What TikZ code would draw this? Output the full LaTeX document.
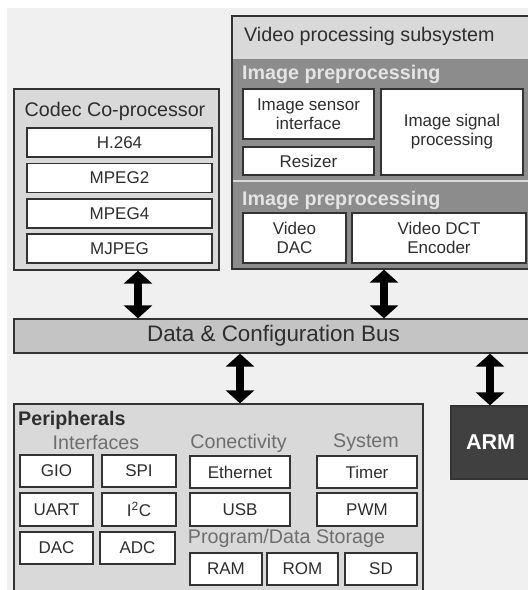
\documentclass[tikz,border=0pt]{standalone}
\usepackage{fontspec}
\setmainfont{Liberation Sans}
\usetikzlibrary{arrows.meta}
\definecolor{bgc}{HTML}{F0F0F0}
\definecolor{boxc}{HTML}{D9D9D9}
\definecolor{bandc}{HTML}{8C8C8C}
\definecolor{bandtxt}{HTML}{E4E4E4}
\definecolor{busc}{HTML}{C4C4C4}
\definecolor{edgec}{HTML}{333333}
\definecolor{txtc}{HTML}{2E2E2E}
\definecolor{subc}{HTML}{6E6E6E}
\definecolor{armc}{HTML}{404040}
\tikzset{
  outer/.style={draw=edgec, line width=1.3pt, fill=boxc, rectangle, inner sep=0pt},
  item/.style={draw=edgec, line width=1.4pt, fill=white, rectangle, inner sep=0pt,
     text=txtc, font=\fontsize{17}{20}\selectfont, align=center},
  title/.style={text=txtc, font=\fontsize{19.7}{22}\selectfont, inner sep=0pt},
  bandtitle/.style={text=bandtxt, font=\fontsize{19.7}{22}\selectfont\bfseries, inner sep=0pt, anchor=west},
  sublabel/.style={text=subc, font=\fontsize{19.7}{22}\selectfont, inner sep=0pt},
  bigarrow/.style={line width=8pt, black, {Triangle[width=28pt,length=13pt]}-{Triangle[width=28pt,length=13pt]}},
}
\begin{document}
\begin{tikzpicture}[x=1pt,y=-1pt]
\useasboundingbox (0,0) rectangle (528,590);
\clip (0,0) rectangle (528,590);
\fill[bgc] (7,8) rectangle (540,600);

% Codec co-processor
\node[outer, minimum width=205pt, minimum height=181pt] (codec) at (116.5,179.5) {};
\node[title] (codectitle) at (115,111) {Codec Co-processor};
\node[item, minimum width=185pt, minimum height=29pt] (h264) at (119.5,142.5) {H.264};
\node[item, minimum width=185pt, minimum height=29pt] (mpeg2) at (119.5,178) {MPEG2};
\node[item, minimum width=185pt, minimum height=29pt] (mpeg4) at (119.5,213.5) {MPEG4};
\node[item, minimum width=185pt, minimum height=29pt] (mjpeg) at (119.5,248.5) {MJPEG};

% Video processing subsystem
\node[outer, minimum width=308pt, minimum height=253pt] (video) at (386,142.5) {};
\node[title, anchor=west] (videotitle) at (244,36) {Video processing subsystem};
\node[fill=bandc, inner sep=0pt, minimum width=307pt, minimum height=122pt] (band1) at (386.5,120) {};
\node[fill=bandc, inner sep=0pt, minimum width=307pt, minimum height=86pt] (band2) at (386.5,225) {};
\draw[boxc, line width=2.5pt] (band1.south west) -- (band1.south east);
\node[bandtitle] (b1title) at (242,74) {Image preprocessing};
\node[bandtitle] (b2title) at (242,200) {Image preprocessing};
\node[item, minimum width=131pt, minimum height=50pt] (isi) at (308.5,114) {Image sensor\\[-1pt]interface};
\node[item, minimum width=131pt, minimum height=28pt] (resizer) at (308.5,161) {Resizer};
\node[item, minimum width=142pt, minimum height=86pt] (isp) at (452,132) {Image signal\\[-1pt]processing};
\node[item, minimum width=103pt, minimum height=50pt] (vdac) at (294.5,238) {Video\\[-1pt]DAC};
\node[item, minimum width=174pt, minimum height=50pt] (vdct) at (439,238) {Video DCT\\[-1pt]Encoder};

% Bus
\node[draw=edgec, line width=1.3pt, fill=busc, inner sep=0pt, minimum width=519pt, minimum height=34pt,
  text=txtc, font=\fontsize{22.4}{26}\selectfont] (bus) at (273.5,336) {Data \& Configuration Bus};

% Peripherals
\node[outer, minimum width=409pt, minimum height=196pt] (periph) at (218.5,502) {};
\node[title, anchor=west, font=\fontsize{19.7}{22}\selectfont\bfseries] (ptitle) at (18,420) {Peripherals};
\node[sublabel] (lint) at (96,442) {Interfaces};
\node[sublabel] (lcon) at (238.5,443) {Conectivity};
\node[sublabel] (lsys) at (366,443) {System};
\node[sublabel] (lstore) at (286.5,538) {Program/Data Storage};

\node[item, minimum width=73pt, minimum height=32pt] (gio) at (56.5,471) {GIO};
\node[item, minimum width=74pt, minimum height=32pt] (spi) at (139,471) {SPI};
\node[item, minimum width=73pt, minimum height=33pt] (uart) at (56.5,509.5) {UART};
\node[item, minimum width=74pt, minimum height=33pt] (i2c) at (139,509.5) {I\textsuperscript{2}C};
\node[item, minimum width=73pt, minimum height=32pt] (dac) at (56.5,548) {DAC};
\node[item, minimum width=75pt, minimum height=32pt] (adc) at (137.5,548) {ADC};

\node[item, minimum width=100pt, minimum height=32pt] (eth) at (240,472) {Ethernet};
\node[item, minimum width=100pt, minimum height=33pt] (usb) at (240,509.5) {USB};
\node[item, minimum width=100pt, minimum height=32pt] (timer) at (367,472) {Timer};
\node[item, minimum width=100pt, minimum height=33pt] (pwm) at (367,509.5) {PWM};

\node[item, minimum width=72pt, minimum height=32pt] (ram) at (226,569) {RAM};
\node[item, minimum width=71pt, minimum height=32pt] (rom) at (302.5,569) {ROM};
\node[item, minimum width=72pt, minimum height=32pt] (sd) at (381,569) {SD};

% ARM
\node[draw=edgec, line width=1.3pt, fill=armc, inner sep=0pt, minimum width=79pt, minimum height=73pt,
  text=white, font=\fontsize{21.5}{24}\selectfont\bfseries] (arm) at (490.5,442.5) {ARM};

% Arrows
\coordinate (xa) at (138,0);
\coordinate (xb) at (384,0);
\coordinate (xc) at (240,0);
\coordinate (xd) at (490,0);
\draw[bigarrow] (codec.south -| xa) -- (bus.north -| xa);
\draw[bigarrow] (video.south -| xb) -- (bus.north -| xb);
\draw[bigarrow] (bus.south -| xc) -- (periph.north -| xc);
\draw[bigarrow] (bus.south -| xd) -- (arm.north -| xd);
\end{tikzpicture}
\end{document}
